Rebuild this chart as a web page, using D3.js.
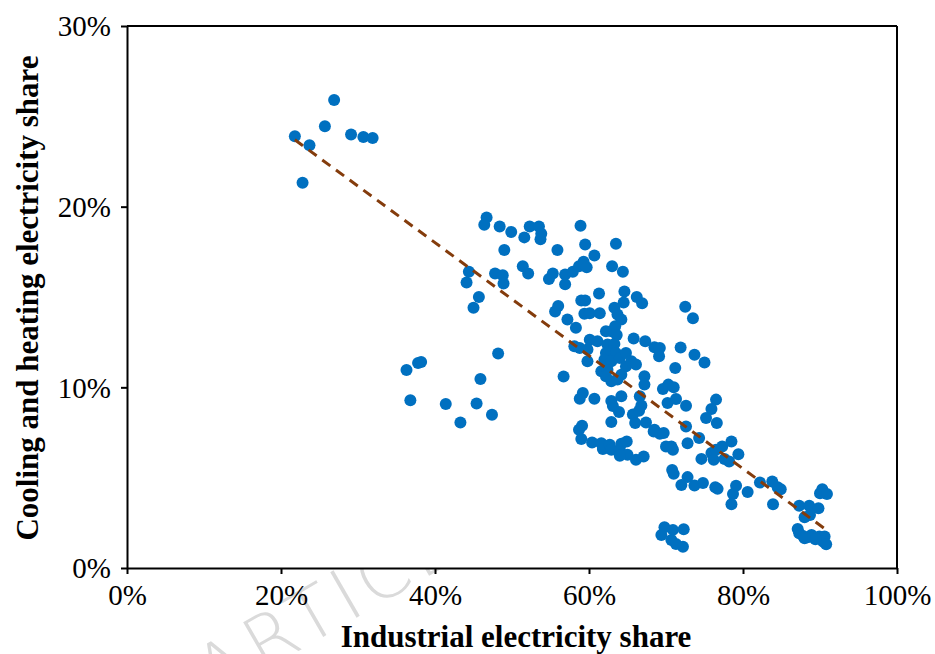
<!DOCTYPE html>
<html>
<head>
<meta charset="utf-8">
<script src="https://cdn.jsdelivr.net/npm/d3@7"></script>
<style>
  body { margin: 0; background: #fff; }
  svg { display: block; }
</style>
</head>
<body>
<div id="chart"></div>
<script>
// industrial electricity share (%) of each point
var industrialShare = [
  21.8, 23.7, 25.7, 26.9, 29.1, 30.7, 31.9, 22.8,
  46.7, 46.4, 48.4, 49.9, 52.3, 53.5, 53.8, 53.7, 51.6, 49.0, 55.9, 47.8, 48.8, 48.9, 44.4, 44.1, 45.7, 45.0,
  51.4, 52.1, 55.3, 54.8, 56.9, 56.9, 57.9, 58.7, 59.3, 59.7, 58.9, 59.5, 63.5, 60.7, 63.0, 64.4, 61.3, 64.6,
  64.5, 66.2, 66.9, 56.0, 55.6, 59.0, 59.5,
  57.2, 58.3, 59.4, 60.1, 61.4, 63.3, 63.7, 64.2, 63.4, 62.9, 63.6, 62.2, 65.8, 67.3, 60.1, 61.1, 58.1, 58.8,
  59.8, 62.4, 63.3, 62.9, 62.2, 63.5, 62.0, 62.9, 64.0, 64.8, 59.8, 61.6, 62.4, 62.2, 62.9, 64.2, 64.8, 65.5,
  66.1, 63.7, 67.2, 67.2, 56.7, 59.2, 58.8, 60.7, 64.2, 66.6,
  48.2, 36.3, 37.8, 38.2, 45.9, 36.8, 41.4, 45.4, 43.3, 47.4,
  62.9, 63.1, 63.9, 65.7, 66.8, 66.5, 62.9, 66.0, 67.4, 68.4, 59.1, 58.7, 59.0, 60.4, 61.6, 61.8, 62.7, 62.9,
  64.0, 64.2, 64.9, 65.0, 64.0, 66.1, 67.1,
  72.5, 73.5, 68.5, 69.2, 69.1, 71.9, 73.7, 75.0, 71.2, 69.6, 70.3, 71.0, 76.5, 70.2, 71.3, 72.6, 75.9, 75.2,
  76.6, 68.5, 69.2, 69.7, 70.0, 70.9, 70.7, 72.8, 72.6, 74.3, 75.9, 76.5, 77.3, 78.5, 79.4, 76.2, 77.6, 78.2,
  74.6, 70.8, 71.0, 72.8, 72.0, 73.7, 74.8, 76.4, 76.7, 79.1, 78.7, 78.5, 80.6,
  82.2, 83.8, 84.5, 84.9, 83.9, 87.3, 88.6, 89.8, 88.0, 88.7, 90.3, 90.0, 90.9, 87.1, 87.3, 87.8, 88.4, 88.9,
  89.9, 90.6, 90.4, 90.8, 89.4, 88.0,
  69.8, 69.4, 70.9, 72.3, 70.7, 71.3, 72.2
];
// cooling and heating electricity share (%) of the same points
var coolingShare = [
  23.9, 23.4, 24.45, 25.9, 24.0, 23.86, 23.8, 21.33,
  19.4, 19.0, 18.9, 18.6, 18.9, 18.9, 18.5, 18.2, 18.3, 17.6, 17.6, 16.3, 16.2, 15.75, 16.4, 15.8, 15.0, 14.4,
  16.7, 16.3, 16.3, 16.0, 16.25, 15.7, 16.4, 16.7, 16.95, 16.65, 18.95, 17.9, 17.95, 17.3, 16.7, 16.4, 15.2, 15.3,
  14.7, 15.0, 14.65, 14.5, 14.2, 14.8, 14.8,
  13.75, 13.3, 14.07, 14.1, 14.1, 14.4, 14.03, 13.75, 13.38, 13.1, 12.9, 13.1, 12.7, 12.55, 12.64, 12.55, 12.27, 12.18,
  12.09, 12.37, 12.4, 12.0, 11.9, 11.9, 11.53, 11.44, 11.63, 11.9, 11.44, 10.89, 10.98, 10.61, 10.33, 10.7, 11.16, 11.44,
  11.26, 10.43, 10.61, 10.15, 10.6, 9.69, 9.37, 9.37, 9.5, 9.5,
  11.87, 10.96, 11.35, 11.4, 10.46, 9.28, 9.08, 9.11, 8.06, 8.48,
  9.25, 8.97, 8.63, 8.5, 9.0, 8.7, 8.08, 8.02, 8.06, 7.56, 7.87, 7.65, 7.14, 6.95, 6.91, 6.58, 6.82, 6.54,
  6.54, 6.88, 7.0, 6.27, 6.21, 5.99, 6.17,
  14.46, 13.83, 12.22, 12.18, 11.72, 12.2, 11.8, 11.38, 11.07, 9.91, 10.15, 10.0, 9.32, 9.13, 9.35, 8.98, 8.8, 8.3,
  8.02, 7.65, 7.43, 7.47, 6.73, 6.54, 6.73, 6.91, 7.83, 7.19, 6.36, 6.54, 6.73, 7.0, 6.3, 5.99, 6.03, 5.89,
  6.04, 5.43, 5.21, 5.03, 4.6, 4.56, 4.7, 4.47, 4.38, 4.55, 4.09, 3.53, 4.21,
  4.73, 4.79, 4.47, 4.36, 3.53, 3.44, 3.44, 3.31, 2.81, 2.94, 4.36, 4.14, 4.1, 2.16, 1.92, 1.77, 1.70, 1.83,
  1.74, 1.74, 1.46, 1.31, 1.59, 1.65,
  2.26, 1.83, 2.11, 2.15, 1.55, 1.33, 1.18
];
// linear trendline: y = a + b * x, over the data's x range
var trendIntercept = 30.52;
var trendSlope = -0.3128;
var xTicks = [0, 20, 40, 60, 80, 100];
var yTicks = [0, 10, 20, 30];

var width = 935, height = 654;
var margin = {left: 127, right: 38, top: 26, bottom: 86};

var svg = d3.select("#chart").append("svg")
    .attr("width", width)
    .attr("height", height);

// faint watermark of the manuscript page, mostly hidden by the plot area
svg.append("text")
    .attr("transform", "translate(214,700) rotate(-30)")
    .attr("font-family", "DejaVu Sans, sans-serif")
    .attr("font-weight", 200)
    .attr("font-size", 72)
    .attr("fill", "#dadada")
    .attr("letter-spacing", 6)
    .text("ARTICLE");

var x = d3.scaleLinear().domain([0, 100]).range([margin.left, width - margin.right]);
var y = d3.scaleLinear().domain([0, 30]).range([height - margin.bottom, margin.top]);

svg.append("rect")
    .attr("x", x(0))
    .attr("y", y(30))
    .attr("width", x(100) - x(0))
    .attr("height", y(0) - y(30))
    .attr("fill", "#fff");

var fmt = function (d) { return d + "%"; };

var xAxis = svg.append("g")
    .attr("transform", "translate(0," + y(0) + ")")
    .call(d3.axisBottom(x).tickValues(xTicks).tickFormat(fmt).tickSize(6).tickPadding(10).tickSizeOuter(0));
var yAxis = svg.append("g")
    .attr("transform", "translate(" + x(0) + ",0)")
    .call(d3.axisLeft(y).tickValues(yTicks).tickFormat(fmt).tickSize(6).tickPadding(10).tickSizeOuter(0));

[xAxis, yAxis].forEach(function (g) {
    g.select(".domain").attr("stroke", "#000").attr("stroke-width", 2);
    g.selectAll(".tick line").attr("stroke", "#000").attr("stroke-width", 2);
    g.selectAll(".tick text")
        .attr("font-family", "Liberation Serif, Times New Roman, serif")
        .attr("font-size", 29)
        .attr("fill", "#000");
});
yAxis.selectAll(".tick text").attr("dy", "0.34em");

// top and right frame lines
svg.append("line")
    .attr("x1", x(0)).attr("x2", x(100))
    .attr("y1", y(30)).attr("y2", y(30))
    .attr("stroke", "#000").attr("stroke-width", 2);
svg.append("line")
    .attr("x1", x(100)).attr("x2", x(100))
    .attr("y1", y(30)).attr("y2", y(0))
    .attr("stroke", "#000").attr("stroke-width", 2);

var points = industrialShare.map(function (v, i) { return [v, coolingShare[i]]; });

svg.append("g").selectAll("circle")
    .data(points)
    .enter()
    .append("circle")
    .attr("cx", function (d) { return x(d[0]); })
    .attr("cy", function (d) { return y(d[1]); })
    .attr("r", 6)
    .attr("fill", "#0070C0");

var xExtent = d3.extent(industrialShare);
svg.append("path")
    .datum(xExtent.map(function (v) { return [v, trendIntercept + trendSlope * v]; }))
    .attr("d", d3.line().x(function (d) { return x(d[0]); }).y(function (d) { return y(d[1]); }))
    .attr("fill", "none")
    .attr("stroke", "#843C0C")
    .attr("stroke-width", 3)
    .attr("stroke-dasharray", "10,7");

svg.append("text")
    .attr("x", 516)
    .attr("y", 647)
    .attr("text-anchor", "middle")
    .attr("font-family", "Liberation Serif, Times New Roman, serif")
    .attr("font-weight", "bold")
    .attr("font-size", 31)
    .text("Industrial electricity share");

svg.append("text")
    .attr("transform", "translate(38," + (298) + ") rotate(-90)")
    .attr("text-anchor", "middle")
    .attr("font-family", "Liberation Serif, Times New Roman, serif")
    .attr("font-weight", "bold")
    .attr("font-size", 31)
    .text("Cooling and heating electricity share");
</script>
</body>
</html>
